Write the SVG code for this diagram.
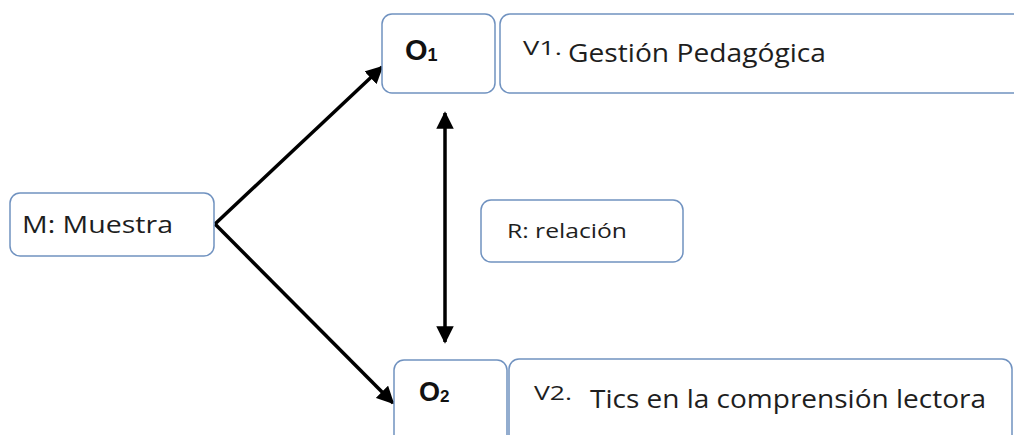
<svg xmlns="http://www.w3.org/2000/svg" width="1014" height="435" viewBox="0 0 1014 435">
<style>
.box{fill:#fff;stroke:#7092c0;stroke-width:1.5}
.t{font-family:"Open Sans","Liberation Sans",sans-serif;fill:#1e1e1e}
.o{font-family:"Liberation Sans",Arial,sans-serif;font-weight:bold;fill:#111}
.c{stroke:#000;stroke-width:3.5;fill:none}
</style>
<defs>
<marker id="ah" viewBox="0 0 10 10" refX="9" refY="5" markerWidth="5" markerHeight="5" orient="auto-start-reverse" markerUnits="strokeWidth">
<path d="M0,0 L10,5 L0,10 z" fill="#000"/>
</marker>
</defs>
<rect width="1014" height="435" fill="#fff"/>
<g id="connectors">
<line class="c" x1="215" y1="224" x2="382" y2="67" marker-end="url(#ah)"/>
<line class="c" x1="215" y1="224" x2="393" y2="403" marker-end="url(#ah)"/>
<line class="c" x1="445" y1="113" x2="445" y2="342" marker-start="url(#ah)" marker-end="url(#ah)"/>
</g>
<g id="M">
<rect class="box" x="10" y="193" width="204" height="63" rx="10"/>
<text class="t" x="22" y="233" font-size="23" textLength="151" lengthAdjust="spacingAndGlyphs">M: Muestra</text>
</g>
<g id="O1">
<rect class="box" x="382" y="14" width="113" height="79" rx="10"/>
<text class="o" x="405" y="60" font-size="29">O<tspan font-size="18" dy="1">1</tspan></text>
</g>
<g id="V1">
<rect class="box" x="500" y="14" width="540" height="79" rx="10"/>
<text class="t" x="523" y="55" font-size="20" textLength="39" lengthAdjust="spacingAndGlyphs">V1.</text>
<text class="t" x="568" y="62" font-size="26" textLength="258" lengthAdjust="spacingAndGlyphs">Gestión Pedagógica</text>
</g>
<g id="R">
<rect class="box" x="481" y="200" width="202" height="62" rx="10"/>
<text class="t" x="507" y="238" font-size="20" textLength="120" lengthAdjust="spacingAndGlyphs">R: relación</text>
</g>
<g id="O2">
<rect class="box" x="394" y="360" width="113" height="93" rx="10"/>
<text class="o" x="419" y="401" font-size="27">O<tspan font-size="17" dy="1">2</tspan></text>
</g>
<g id="V2">
<rect class="box" x="509" y="359" width="503" height="93" rx="10"/>
<text class="t" x="534" y="400" font-size="20" textLength="38" lengthAdjust="spacingAndGlyphs">V2.</text>
<text class="t" x="590" y="408" font-size="26" textLength="396" lengthAdjust="spacingAndGlyphs">Tics en la comprensión lectora</text>
</g>
</svg>
